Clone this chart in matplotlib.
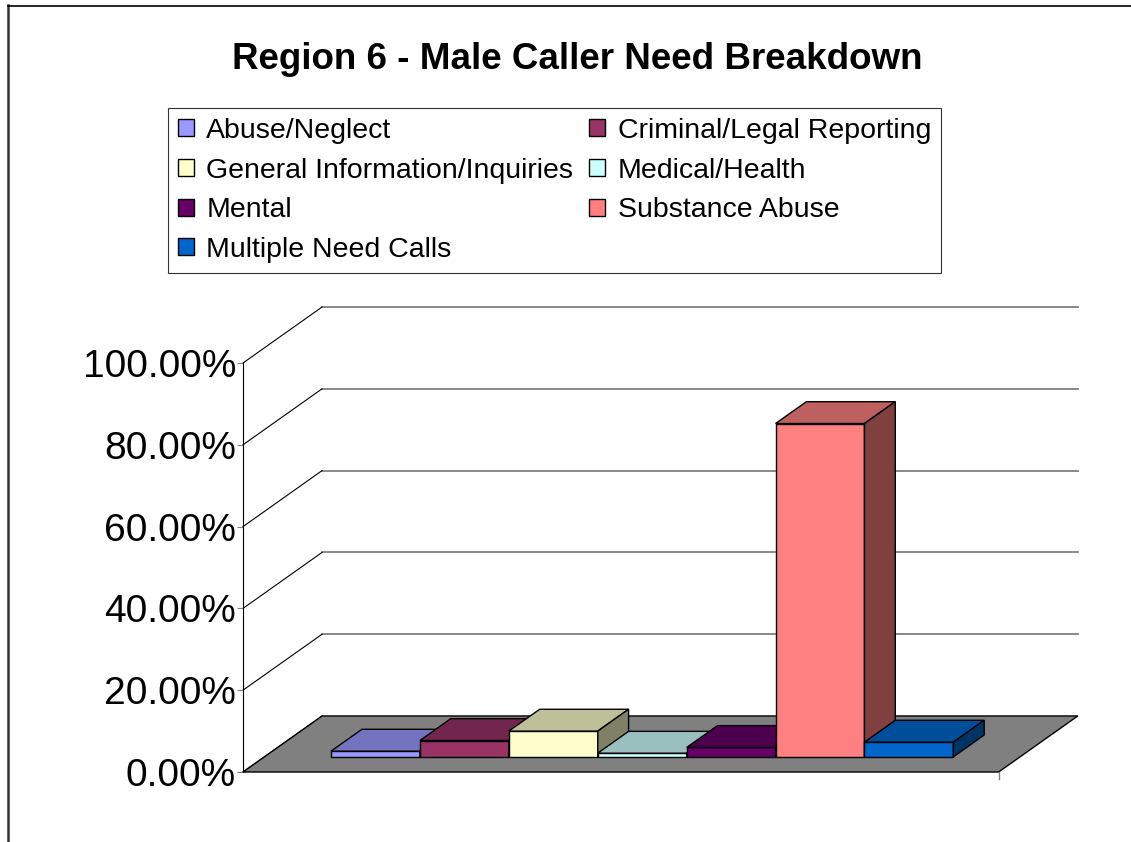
import numpy as np
import matplotlib.pyplot as plt
from matplotlib.patches import Polygon, Rectangle
from matplotlib.lines import Line2D

plt.rcParams['font.family'] = ['Liberation Sans', 'DejaVu Sans']

# data
needs = ["Abuse/Neglect", "Criminal/Legal Reporting", "General Information/Inquiries",
         "Medical/Health", "Mental", "Substance Abuse", "Multiple Need Calls"]
shares = [1.4, 4.0, 6.3, 0.9, 2.3, 81.5, 3.6]   # percent
colors = ["#9999FF", "#993366", "#FFFFCC", "#CCFFFF", "#660066", "#FF8080", "#0066CC"]
yticks = [0, 20, 40, 60, 80, 100]
title = "Region 6 - Male Caller Need Breakdown"

# fake 3d projection (excel style)
DX, DY = 0.89, 13.7        # offset of the back wall, in x units / percent
FLOOR_W = len(needs) + 1.5  # 7 bars + gap
GAP = 0.75
D0, BD = 0.27, 0.39         # bar start depth and bar depth (fraction of full depth)


def shade(c, f):
    r, g, b = plt.matplotlib.colors.to_rgb(c)
    return (r * f, g * f, b * f)


fig = plt.figure(figsize=(11.31, 8.42), dpi=100)
# axes placed so x=0 -> 243px, 1 unit = 88.9px ; y=0 -> 772px, 1% = 4.09px
px_w, px_h = 1131, 842
ux = 88.9
x_lo, x_hi = -243 / ux, (px_w - 243) / ux
y_lo, y_hi = (772 - px_h) / 4.09, 772 / 4.09
ax = fig.add_axes([0, 0, 1, 1])
ax.set_xlim(x_lo, x_hi)
ax.set_ylim(y_lo, y_hi)
for s in ['top', 'right', 'bottom']:
    ax.spines[s].set_visible(False)
ax.spines['left'].set_position(('data', 0))
ax.spines['left'].set_bounds(0, 100)
ax.spines['left'].set_linewidth(0.8)
ax.set_xticks([])
ax.set_yticks(yticks)
ax.set_yticklabels([f"{v:.2f}%" for v in yticks], fontsize=28)
ax.tick_params(axis='y', direction='out', length=4, width=0.8, color='#808080', pad=1)
ax.patch.set_alpha(0)

# walls: back gridlines (gray) and side diagonals (black)
for g in yticks:
    if g > 0:
        ax.plot([DX, FLOOR_W + DX], [g + DY, g + DY], color='#808080', lw=1.3, zorder=1)
    ax.plot([0, DX], [g, g + DY], color='black', lw=0.8, zorder=1)

# floor
floor = Polygon([(0, 0), (FLOOR_W, 0), (FLOOR_W + DX, DY), (DX, DY)], closed=True,
                facecolor='#808080', edgecolor='black', lw=1.0, zorder=2)
ax.add_patch(floor)
ax.plot([FLOOR_W, FLOOR_W], [0, -1.7], color='#808080', lw=1.0, zorder=2)

# bars
handles = []
for i, (name, v, c) in enumerate(zip(needs, shares, colors)):
    x0 = GAP + i + D0 * DX
    yb = D0 * DY
    bx, by = BD * DX, BD * DY
    z = 3 + i
    front = ax.bar(x0, v, width=1, bottom=yb, align='edge', color=c,
                   edgecolor='black', lw=1.0, zorder=z, label=name)
    top = Polygon([(x0, yb + v), (x0 + 1, yb + v), (x0 + 1 + bx, yb + v + by), (x0 + bx, yb + v + by)],
                  closed=True, facecolor=shade(c, 0.75), edgecolor='black', lw=1.0, zorder=z)
    side = Polygon([(x0 + 1, yb), (x0 + 1, yb + v), (x0 + 1 + bx, yb + v + by), (x0 + 1 + bx, yb + by)],
                   closed=True, facecolor=shade(c, 0.5), edgecolor='black', lw=1.0, zorder=z)
    ax.add_patch(top)
    ax.add_patch(side)
    handles.append(Rectangle((0, 0), 1, 1, facecolor=c, edgecolor='black', lw=1.0))

# title
fig.text(0.51, 0.929, title, ha='center', va='center', fontsize=26.5, fontweight='bold')

# legend, row-major order like the original
order = [0, 2, 4, 6, 1, 3, 5]
leg = fig.legend([handles[k] for k in order], [needs[k] for k in order],
                 ncol=2, loc='upper left', bbox_to_anchor=(168 / px_w, 1 - 108 / px_h),
                 fontsize=20.5, frameon=True, fancybox=False, edgecolor='black',
                 handlelength=0.55, handleheight=0.55, handletextpad=0.45,
                 columnspacing=0.55, labelspacing=0.48, borderpad=0.35, borderaxespad=0)
leg.get_frame().set_linewidth(0.8)

# outer chart border (left and top visible)
fig.add_artist(Line2D([8 / px_w, 8 / px_w], [0, 1 - 5 / px_h], color='#333333', lw=1.8))
fig.add_artist(Line2D([8 / px_w, 1], [1 - 6 / px_h, 1 - 6 / px_h], color='black', lw=1.2))

fig.savefig("out.png", dpi=100)
